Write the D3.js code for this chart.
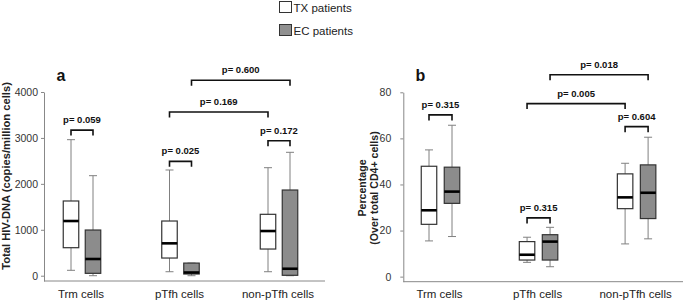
<!DOCTYPE html>
<html>
<head>
<meta charset="utf-8">
<script src="https://cdn.jsdelivr.net/npm/d3@7"></script>
<style>
body { margin: 0; background: #fff; }
text { font-family: "Liberation Sans", Arial, sans-serif; }
</style>
</head>
<body>
<div id="chart"></div>
<script>
// categories and series
var groups = ["Trm cells", "pTfh cells", "non-pTfh cells"];
var seriesNames = ["TX patients", "EC patients"];

// panel a - total HIV-DNA, each box is [min, q1, median, q3, max]
var dnaTX = [[118, 610, 1191, 1627, 2962], [87, 385, 705, 1191, 2302], [87, 581, 973, 1337, 2352]];
var dnaEC = [[0, 52, 364, 995, 2178], [0, 37, 70, 275, 275], [0, 9, 152, 1866, 2687]];
var dnaTicks = [0, 1000, 2000, 3000, 4000];
// comparisons: [group, series] -> [group, series], bracket level in data units
var dnaPvals = [
    {from: [0, 0], to: [0, 1], level: 3170, p: "p= 0.059"},
    {from: [1, 0], to: [1, 1], level: 2490, p: "p= 0.025"},
    {from: [2, 0], to: [2, 1], level: 2940, p: "p= 0.172"},
    {from: [1, 0], to: [2, 0], level: 3566, p: "p= 0.169"},
    {from: [1, 1], to: [2, 1], level: 4256, p: "p= 0.600"}
];

// panel b - percentage over total CD4+ cells
var pctTX = [[15.5, 22.7, 28.8, 47.9, 55.0], [6.2, 7.2, 9.5, 15.2, 17.1], [14.2, 29.5, 34.4, 44.6, 49.2]];
var pctEC = [[17.4, 31.8, 36.9, 47.5, 65.7], [4.3, 7.2, 15.2, 18.2, 21.4], [16.4, 25.2, 36.4, 48.5, 60.5]];
var pctTicks = [0, 20, 40, 60, 80];
var pctPvals = [
    {from: [0, 0], to: [0, 1], level: 70.2, p: "p= 0.315"},
    {from: [1, 0], to: [1, 1], level: 25.5, p: "p= 0.315"},
    {from: [2, 0], to: [2, 1], level: 65.1, p: "p= 0.604"},
    {from: [1, 0], to: [2, 0], level: 75.1, p: "p= 0.005"},
    {from: [1, 1], to: [2, 1], level: 87.6, p: "p= 0.018"}
];

var fills = ["#ffffff", "#8c8c8c"];
var width = 685, height = 301;

var svg = d3.select("#chart")
    .append("svg")
    .attr("width", width)
    .attr("height", height);

// legend
var legend = svg.append("g");
seriesNames.forEach(function(name, i) {
    legend.append("rect")
        .attr("x", 279.5).attr("y", 1.5 + i * 23)
        .attr("width", 12).attr("height", 11)
        .attr("fill", i == 0 ? "#fff" : "#909090")
        .attr("stroke", "#333").attr("stroke-width", 1);
    legend.append("text")
        .attr("x", 293.5).attr("y", 11.5 + i * 23.5)
        .style("font-size", "11.5px")
        .attr("fill", "#222")
        .text(name);
});

function boxPanel(cfg) {
    var g = svg.append("g");

    var x = d3.scalePoint().domain(groups).range(cfg.xRange);
    var y = d3.scaleLinear().domain(cfg.yDomain).range(cfg.yRange);
    var off = cfg.offset, bw = 15.5;

    function cx(gi, si) { return x(groups[gi]) + (si == 0 ? -off : off); }

    // y axis
    var ya = g.append("g")
        .attr("transform", "translate(" + cfg.axisX + ",0)")
        .call(d3.axisLeft(y).tickValues(cfg.ticks).tickFormat(d3.format("d"))
            .tickSize(3).tickSizeOuter(0).tickPadding(cfg.tickPad));
    ya.select(".domain").attr("stroke", "#888");
    ya.selectAll(".tick line").attr("stroke", "#888");
    ya.selectAll(".tick text")
        .attr("fill", "#333")
        .style("font-size", "10.5px")
        .style("font-family", "'Liberation Sans', Arial, sans-serif");

    // x axis
    g.append("line")
        .attr("x1", cfg.axisX).attr("x2", cfg.axisEnd)
        .attr("y1", cfg.yRange[0]).attr("y2", cfg.yRange[0])
        .attr("stroke", "#888");
    g.selectAll(".xlab")
        .data(groups)
        .enter()
        .append("text")
        .attr("x", function(d) { return x(d) - 1; })
        .attr("y", 297.5)
        .attr("text-anchor", "middle")
        .style("font-size", "11.5px")
        .attr("fill", "#222")
        .text(function(d) { return d; });

    // boxes
    [cfg.tx, cfg.ec].forEach(function(series, si) {
        series.forEach(function(s, gi) {
            var c = cx(gi, si);
            var bx = g.append("g");
            bx.append("line")
                .attr("x1", c).attr("x2", c)
                .attr("y1", y(s[4])).attr("y2", y(s[3]))
                .attr("stroke", "#808080");
            bx.append("line")
                .attr("x1", c).attr("x2", c)
                .attr("y1", y(s[1])).attr("y2", y(s[0]))
                .attr("stroke", "#808080");
            [s[0], s[4]].forEach(function(v) {
                bx.append("line")
                    .attr("x1", c - 4).attr("x2", c + 4)
                    .attr("y1", y(v)).attr("y2", y(v))
                    .attr("stroke", "#808080");
            });
            bx.append("rect")
                .attr("x", c - bw / 2)
                .attr("y", y(s[3]))
                .attr("width", bw)
                .attr("height", y(s[1]) - y(s[3]))
                .attr("fill", fills[si])
                .attr("stroke", "#333")
                .attr("stroke-width", 1.2);
            bx.append("line")
                .attr("x1", c - bw / 2).attr("x2", c + bw / 2)
                .attr("y1", y(s[2])).attr("y2", y(s[2]))
                .attr("stroke", "#000")
                .attr("stroke-width", 2.6);
        });
    });

    // p value brackets
    cfg.pvals.forEach(function(d) {
        var x1 = cx(d.from[0], d.from[1]), x2 = cx(d.to[0], d.to[1]);
        var yy = y(d.level);
        g.append("path")
            .attr("d", "M" + x1 + "," + (yy + 5.5) + "V" + yy + "H" + x2 + "V" + (yy + 5.5))
            .attr("fill", "none")
            .attr("stroke", "#111")
            .attr("stroke-width", 1.6);
        g.append("text")
            .attr("x", (x1 + x2) / 2)
            .attr("y", yy - 7)
            .attr("text-anchor", "middle")
            .style("font-size", "9.5px")
            .style("font-weight", "bold")
            .attr("fill", "#111")
            .text(d.p);
    });

    // panel letter
    g.append("text")
        .attr("x", cfg.letterX).attr("y", 81)
        .style("font-size", "16px")
        .style("font-weight", "bold")
        .attr("fill", "#111")
        .text(cfg.letter);

    // y title
    cfg.titles.forEach(function(t) {
        g.append("text")
            .attr("transform", "translate(" + t.x + "," + cfg.titleY + ") rotate(-90)")
            .attr("text-anchor", "middle")
            .style("font-size", cfg.titleSize)
            .style("font-weight", "bold")
            .attr("fill", "#222")
            .text(t.text);
    });
}

boxPanel({
    tx: dnaTX, ec: dnaEC, ticks: dnaTicks, pvals: dnaPvals,
    xRange: [82, 279], offset: 11,
    yDomain: [-115, 4000], yRange: [281, 92],
    axisX: 44, axisEnd: 325, tickPad: 3,
    letter: "a", letterX: 56.5,
    titles: [{x: 9.5, text: "Total HIV-DNA (copies/million cells)"}],
    titleY: 176, titleSize: "11.2px"
});

boxPanel({
    tx: pctTX, ec: pctEC, ticks: pctTicks, pvals: pctPvals,
    xRange: [440.5, 636.6], offset: 11.5,
    yDomain: [-2.2, 80], yRange: [281.7, 92.3],
    axisX: 403.3, axisEnd: 683, tickPad: 9,
    letter: "b", letterX: 415.5,
    titles: [{x: 365.5, text: "Percentage"}, {x: 377.5, text: "(Over total CD4+ cells)"}],
    titleY: 188, titleSize: "10.6px"
});
</script>
</body>
</html>
